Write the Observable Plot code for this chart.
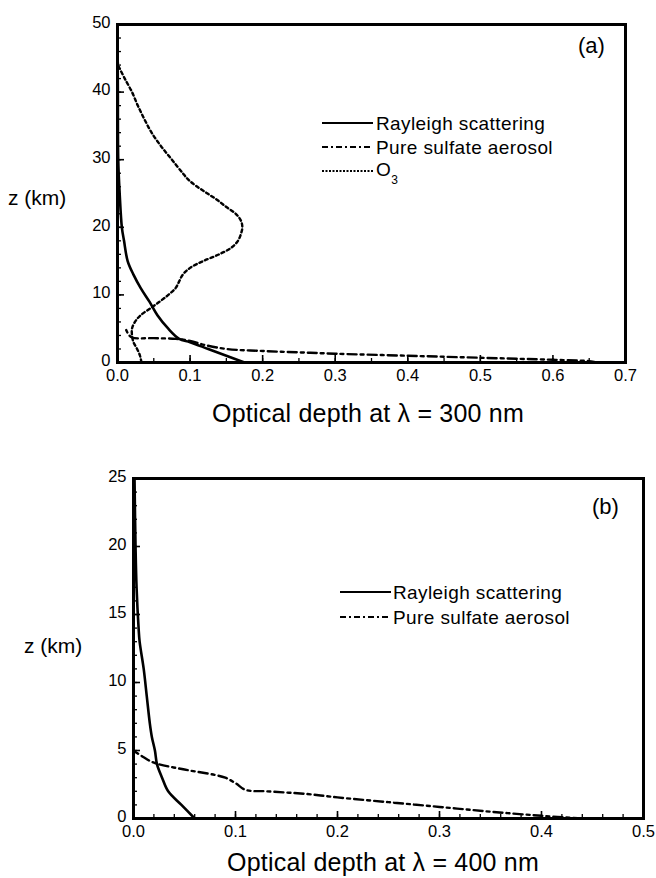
<!DOCTYPE html>
<html><head><meta charset="utf-8">
<script src="https://cdn.jsdelivr.net/npm/d3@7"></script>
<script src="https://cdn.jsdelivr.net/npm/@observablehq/plot@0.6"></script>
<style>
body{margin:0;background:#fff;font-family:"Liberation Sans",Arial,sans-serif;color:#000}
#wrap{position:relative;width:656px;height:878px;overflow:hidden}
#wrap svg text{font-size:16.5px !important;font-family:"Liberation Sans",Arial,sans-serif !important}
.abs{position:absolute;white-space:nowrap;line-height:1}
.lab{font-size:21px}
.title{font-size:25px;letter-spacing:0.2px}
.leg{font-size:19px;letter-spacing:0.4px}
.tag{font-size:22px}
</style></head><body><div id="wrap"></div>
<script>
// ---- Panel (a): optical depth at 300 nm ----
const rayleighA_z = [0,1,2,3,3.5,5,7,9,11,13,15,18,20,25,30,40,50];
const rayleighA_x = [0.175,0.15,0.125,0.1,0.085,0.07,0.055,0.044,0.032,0.022,0.014,0.009,0.006,0.003,0.001,0.0005,0];
const aerosolA_z = [0,0.2,0.4,0.7,1.0,1.3,1.5,1.7,2.0,2.6,3.2,3.5,3.6,3.7,4.2,4.8];
const aerosolA_x = [0.66,0.65,0.6,0.5,0.4,0.3,0.25,0.2,0.15,0.12,0.1,0.08,0.05,0.02,0.015,0.012];
const ozoneA_z = [0,1,2,3,4,5,6,7,8,9,10,11,12,13,14,15,16,17,18,19,20,21,22,23,24,25,26,27,28,30,32,34,36,38,40,42,43.5,44,50];
const ozoneA_x = [0.033,0.031,0.027,0.022,0.02,0.02,0.024,0.032,0.045,0.058,0.07,0.08,0.085,0.09,0.1,0.118,0.14,0.157,0.166,0.17,0.172,0.17,0.163,0.15,0.138,0.124,0.11,0.098,0.09,0.075,0.06,0.047,0.037,0.028,0.02,0.01,0.003,0.001,0];
const xTicksA = [0,0.1,0.2,0.3,0.4,0.5,0.6,0.7];
const yTicksA = [0,10,20,30,40,50];

// ---- Panel (b): optical depth at 400 nm ----
const rayleighB_z = [0,1,2,3,4,5,6,7,9,11,13,14,17,20,25];
const rayleighB_x = [0.06,0.047,0.034,0.028,0.023,0.021,0.018,0.016,0.013,0.01,0.006,0.005,0.003,0.002,0.001];
const aerosolB_z = [0,0.2,0.5,0.85,1.2,1.55,1.8,2.0,2.1,2.6,3.0,3.2,3.6,4.1,4.5,5.0];
const aerosolB_x = [0.44,0.4,0.35,0.3,0.25,0.2,0.17,0.13,0.11,0.1,0.09,0.08,0.05,0.02,0.01,0.0];
const xTicksB = [0,0.1,0.2,0.3,0.4,0.5];
const yTicksB = [0,5,10,15,20,25];

const styles = {
  rayleigh:{stroke:"#000",strokeWidth:2.6},
  aerosol:{stroke:"#000",strokeWidth:2.4,strokeDasharray:"9,4,3,4"},
  ozone:{stroke:"#000",strokeWidth:2.4,strokeDasharray:"3,3"}
};
const toRows = (xs, zs) => xs.map((x,i)=>({x, z:zs[i]}));
const fmt = d => d3.format(".1f")(d);

function panel({width,height,mt,mb,ml,mr,xDom,yDom,xTicks,yTicks,xMinor,yMinor,series,xpad}){
  const marks = [];
  for (const s of series) marks.push(Plot.line(s.data,{x:"x",y:"z",curve:"catmull-rom",...s.style}));
  marks.push(
    Plot.axisX({ticks:xTicks,tickSize:0,tickPadding:xpad,tickFormat:fmt,fontSize:16.5,label:null}),
    Plot.axisY({ticks:yTicks,tickSize:0,tickPadding:7,dy:-2,fontSize:16.5,label:null}),
    Plot.axisX({ticks:xTicks,tickSize:-7,text:null,strokeWidth:1.6,label:null}),
    Plot.axisY({ticks:yTicks,tickSize:-7,text:null,strokeWidth:1.6,label:null}),
    Plot.axisX({ticks:xMinor,tickSize:-4,text:null,strokeWidth:1.3,label:null}),
    Plot.axisY({ticks:yMinor,tickSize:-4,text:null,strokeWidth:1.3,label:null}),
    Plot.frame({stroke:"#000",strokeWidth:3})
  );
  return Plot.plot({width,height,marginTop:mt,marginBottom:mb,marginLeft:ml,marginRight:mr,
    style:{fontFamily:"'Liberation Sans',Arial,sans-serif",fontSize:"16.5px",color:"#000",background:"transparent",overflow:"visible"},
    x:{domain:xDom,label:null},y:{domain:yDom,label:null},marks});
}

const wrap = document.getElementById("wrap");
function place(el, top){el.style.position="absolute";el.style.left="0px";el.style.top=top+"px";wrap.appendChild(el);}
function text(html, x, y, cls, anchor){
  const d=document.createElement("div");d.className="abs "+cls;d.innerHTML=html;
  d.style.left=x+"px";d.style.top=y+"px";
  if(anchor==="middle") d.style.transform="translate(-50%,-50%)"; else d.style.transform="translate(0,-50%)";
  wrap.appendChild(d);return d;
}
function legendLine(x1,x2,y,style){
  const svg=document.createElementNS("http://www.w3.org/2000/svg","svg");
  svg.setAttribute("width",x2-x1);svg.setAttribute("height",6);
  svg.style.position="absolute";svg.style.left=x1+"px";svg.style.top=(y-3)+"px";
  const l=document.createElementNS("http://www.w3.org/2000/svg","line");
  l.setAttribute("x1",0);l.setAttribute("x2",x2-x1);l.setAttribute("y1",3);l.setAttribute("y2",3);
  l.setAttribute("stroke","#000");l.setAttribute("stroke-width",Math.min(2,style.strokeWidth));
  if(style.strokeDasharray) l.setAttribute("stroke-dasharray",style.strokeDasharray==="3,3"?"2,1.5":"6,3,2,3");
  svg.appendChild(l);wrap.appendChild(svg);
}

const minorA_x = d3.range(0,0.7001,0.05);
const minorA_y = d3.range(0,50.01,2);
const a = panel({width:656,height:440,mt:24,mb:78,ml:117,mr:31,xDom:[0,0.7],yDom:[0,50],
  xTicks:xTicksA,yTicks:yTicksA,xMinor:minorA_x,yMinor:minorA_y,xpad:7,
  series:[
    {data:toRows(ozoneA_x,ozoneA_z),style:styles.ozone},
    {data:toRows(aerosolA_x,aerosolA_z),style:styles.aerosol},
    {data:toRows(rayleighA_x,rayleighA_z),style:styles.rayleigh}
  ]});
place(a,0);

const minorB_x = d3.range(0,0.5001,0.02);
const minorB_y = d3.range(0,25.01,1);
const b = panel({width:656,height:438,mt:38,mb:60,ml:133,mr:13,xDom:[0,0.5],yDom:[0,25],
  xTicks:xTicksB,yTicks:yTicksB,xMinor:minorB_x,yMinor:minorB_y,xpad:7,
  series:[
    {data:toRows(aerosolB_x,aerosolB_z),style:styles.aerosol},
    {data:toRows(rayleighB_x,rayleighB_z),style:styles.rayleigh}
  ]});
place(b,440);

// labels panel (a)
text("z (km)",8,197,"lab");
text("Optical depth at &lambda; = 300 nm",368,413,"title","middle");
text("(a)",578,46,"tag");
legendLine(322,373,123,styles.rayleigh);
legendLine(322,373,147,styles.aerosol);
legendLine(322,373,171,styles.ozone);
text("Rayleigh scattering",376,123,"leg");
text("Pure sulfate aerosol",376,147,"leg");
text("O<sub style='font-size:12px;vertical-align:-8px'>3</sub>",376,173,"leg");

// labels panel (b)
text("z (km)",24,645,"lab");
text("Optical depth at &lambda; = 400 nm",383,862,"title","middle");
text("(b)",592,507,"tag");
legendLine(340,391,592,styles.rayleigh);
legendLine(340,391,617,styles.aerosol);
text("Rayleigh scattering",393,592,"leg");
text("Pure sulfate aerosol",393,617,"leg");
</script></body></html>
